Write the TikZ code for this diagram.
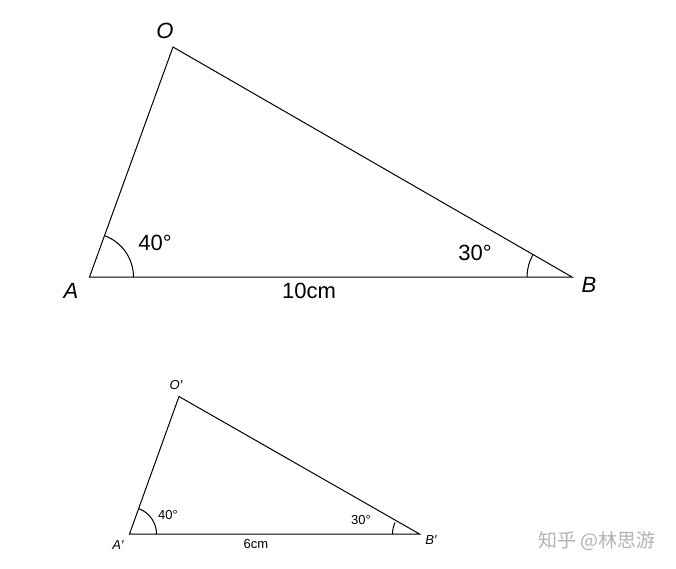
\documentclass[tikz,border=0pt]{standalone}
\usepackage{fontspec}
\setmainfont{Liberation Sans}
\newfontfamily\cjk{Noto Sans CJK SC}
\begin{document}
\begin{tikzpicture}[x=1pt,y=-1pt,
  edge/.style={line width=1pt,black},
  angarc/.style={line width=1pt,black},
  bigtxt/.style={font=\fontsize{22}{26}\selectfont,inner sep=0pt},
  smalltxt/.style={font=\fontsize{13}{16}\selectfont,inner sep=0pt},
  wmark/.style={font=\fontsize{19}{22}\selectfont\cjk,text=black!30,inner sep=0pt}]
\useasboundingbox (0,0) rectangle (676,568);
% big triangle
\coordinate (A) at (89.5,277);
\coordinate (B) at (572,277);
\coordinate (O) at (173,47);
\draw[edge] (A) -- (B) -- (O) -- cycle;
\draw[angarc] ([xshift=44pt]A) arc[start angle=0,end angle=-70.1,radius=44];
\draw[angarc] ([xshift=-45pt]B) arc[start angle=180,end angle=210,radius=45];
\node[bigtxt] (lO) at (165,31) {\itshape O};
\node[bigtxt] (lA) at (71,291) {\itshape A};
\node[bigtxt] (lB) at (589,285) {\itshape B};
\node[bigtxt] (la) at (155,243) {40°};
\node[bigtxt] (lb) at (475,253) {30°};
\node[bigtxt] (lc) at (309,291) {10cm};
% small triangle
\coordinate (A2) at (129.5,534);
\coordinate (B2) at (419.5,534);
\coordinate (O2) at (179,396.5);
\draw[edge] (A2) -- (B2) -- (O2) -- cycle;
\draw[angarc] ([xshift=27pt]A2) arc[start angle=0,end angle=-70.1,radius=27];
\draw[angarc] ([xshift=-27pt]B2) arc[start angle=180,end angle=205.3,radius=27];
\node[smalltxt] (lO2) at (176,385) {\itshape O′};
\node[smalltxt] (lA2) at (118,545) {\itshape A′};
\node[smalltxt] (lB2) at (431,540) {\itshape B′};
\node[smalltxt] (la2) at (168,515) {40°};
\node[smalltxt] (lb2) at (361,520) {30°};
\node[smalltxt] (lc2) at (256,544) {6cm};
\node[wmark] (wm) at (597,541) {知乎 @林思游};
\end{tikzpicture}
\end{document}
